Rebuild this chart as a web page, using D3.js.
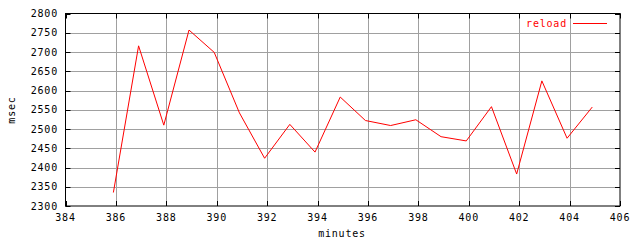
<!DOCTYPE html>
<html>
<head>
<meta charset="utf-8">
<script src="https://cdn.jsdelivr.net/npm/d3@7"></script>
<style>
  body { margin: 0; background: #fff; }
  text { font-family: "DejaVu Sans Mono", monospace; font-size: 10px; letter-spacing: 0.8px; }
</style>
</head>
<body>
<div id="chart"></div>
<script>
const width = 640;
const height = 240;

// data
const minutes = [385.9, 386.9, 387.9, 388.9, 389.9, 390.9, 391.9, 392.9, 393.9, 394.9,
  395.9, 396.9, 397.9, 398.9, 399.9, 400.9, 401.9, 402.9, 403.9, 404.9];
const reload = [2335, 2716, 2510, 2757, 2699, 2542, 2424, 2512, 2440, 2583,
  2522, 2509, 2524, 2480, 2469, 2558, 2383, 2625, 2476, 2557];
const xTicks = [384, 386, 388, 390, 392, 394, 396, 398, 400, 402, 404, 406];
const yTicks = [2300, 2350, 2400, 2450, 2500, 2550, 2600, 2650, 2700, 2750, 2800];

const margin = { left: 65.5, right: 20, top: 13.5, bottom: 34 };

const svg = d3.select("#chart").append("svg")
  .attr("width", width)
  .attr("height", height);

const x = d3.scaleLinear().domain([384, 406]).range([margin.left, width - margin.right]);
const y = d3.scaleLinear().domain([2300, 2800]).range([height - margin.bottom, margin.top]);

// grid
svg.append("g")
  .selectAll("line.vg")
  .data(xTicks.slice(1, -1))
  .enter().append("line")
  .attr("x1", d => Math.round(x(d)) + 0.5).attr("x2", d => Math.round(x(d)) + 0.5)
  .attr("y1", y(2300)).attr("y2", y(2800))
  .attr("stroke", "#a0a0a0");

svg.append("g")
  .selectAll("line.hg")
  .data(yTicks.slice(1, -1))
  .enter().append("line")
  .attr("x1", x(384)).attr("x2", x(406))
  .attr("y1", d => Math.round(y(d)) + 0.5).attr("y2", d => Math.round(y(d)) + 0.5)
  .attr("stroke", "#a0a0a0");

// ticks (inside, mirrored)
const ticks = svg.append("g").attr("stroke", "#000");
xTicks.forEach(d => {
  const px = Math.round(x(d)) + 0.5;
  ticks.append("line").attr("x1", px).attr("x2", px).attr("y1", y(2300)).attr("y2", y(2300) - 5);
  ticks.append("line").attr("x1", px).attr("x2", px).attr("y1", y(2800)).attr("y2", y(2800) + 5);
});
yTicks.forEach(d => {
  const py = Math.round(y(d)) + 0.5;
  ticks.append("line").attr("x1", x(384)).attr("x2", x(384) + 5).attr("y1", py).attr("y2", py);
  ticks.append("line").attr("x1", x(406)).attr("x2", x(406) - 5).attr("y1", py).attr("y2", py);
});

// border
svg.append("rect")
  .attr("x", x(384)).attr("y", y(2800))
  .attr("width", x(406) - x(384)).attr("height", y(2300) - y(2800))
  .attr("fill", "none").attr("stroke", "#000");

// tick labels
svg.append("g").selectAll("text")
  .data(xTicks).enter().append("text")
  .attr("x", d => x(d)).attr("y", 221)
  .attr("text-anchor", "middle")
  .text(d => d);

svg.append("g").selectAll("text")
  .data(yTicks).enter().append("text")
  .attr("x", 58).attr("y", d => y(d) + 3.5)
  .attr("text-anchor", "end")
  .text(d => d);

// axis titles
svg.append("text")
  .attr("x", 342).attr("y", 237)
  .attr("text-anchor", "middle")
  .text("minutes");

svg.append("text")
  .attr("transform", "translate(15,110) rotate(-90)")
  .attr("text-anchor", "middle")
  .text("msec");

// line
const line = d3.line()
  .x((d, i) => x(minutes[i]))
  .y(d => y(d));

svg.append("path")
  .datum(reload)
  .attr("d", line)
  .attr("fill", "none")
  .attr("stroke", "#ff0000")
  .attr("stroke-width", 1);

// legend
svg.append("text")
  .attr("x", 567).attr("y", 27)
  .attr("text-anchor", "end")
  .attr("fill", "#ff0000")
  .text("reload");

svg.append("line")
  .attr("x1", 573).attr("x2", 607)
  .attr("y1", 23.5).attr("y2", 23.5)
  .attr("stroke", "#ff0000");
</script>
</body>
</html>
